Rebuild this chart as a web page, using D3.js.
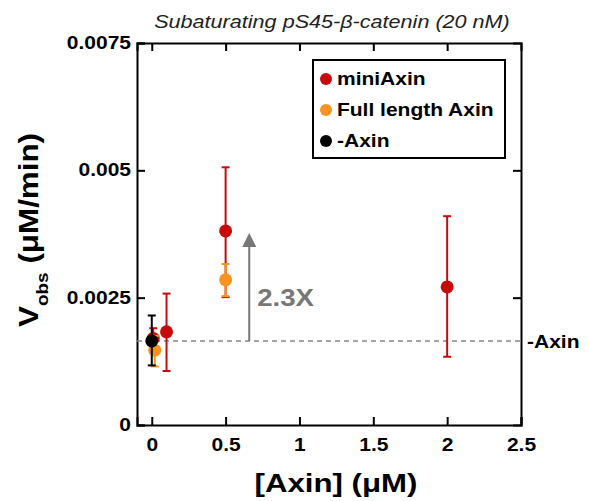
<!DOCTYPE html>
<html>
<head>
<meta charset="utf-8">
<script src="https://cdn.jsdelivr.net/npm/d3@7"></script>
<style>
  body { margin: 0; background: #fff; }
  text { font-family: "Liberation Sans", Arial, Helvetica, sans-serif; }
</style>
</head>
<body>
<div id="chart"></div>
<script>
// data
const seriesNames = ['miniAxin', 'Full length Axin', '-Axin'];
const seriesColors = ['#c80a0a', '#f7931e', '#000000'];

const miniAxin = [
  { x: 0.01, y: 0.00170, lo: 0.00150, hi: 0.00190 },
  { x: 0.1, y: 0.00183, lo: 0.00106, hi: 0.00258 },
  { x: 0.5, y: 0.00381, lo: 0.00251, hi: 0.00506 },
  { x: 2, y: 0.00271, lo: 0.00134, hi: 0.00410 }
];
const fullAxin = [
  { x: 0.02, y: 0.00147, lo: 0.00115, hi: 0.00175 },
  { x: 0.5, y: 0.00285, lo: 0.00253, hi: 0.00316 }
];
const noAxin = [
  { x: 0, y: 0.00165, lo: 0.00117, hi: 0.00215 }
];
const baseline = 0.00165;
const foldLabel = '2.3X';
const arrowX = 0.66, arrowTop = 0.00377;

const xTicks = [0, 0.5, 1, 1.5, 2, 2.5];
const yTicks = [0, 0.0025, 0.005, 0.0075];

const W = 589, H = 501;
const margin = { top: 43, right: 68, bottom: 76, left: 137 };
const width = W - margin.left - margin.right,
  height = H - margin.top - margin.bottom;

// the original figure's lettering is wider than Arial, stretch it
const SX = 1.2;
function stretch(sel) {
  sel.each(function() {
    const t = d3.select(this);
    const tx = +t.attr('x') || 0;
    const prev = t.attr('transform') || '';
    t.attr('transform', prev + ' translate(' + tx * (1 - SX) + ',0) scale(' + SX + ',1)');
  });
}

const svg = d3.select('#chart').append('svg')
  .attr('width', W).attr('height', H);

const g = svg.append('g')
  .attr('transform', 'translate(' + margin.left + ',' + margin.top + ')');

const x = d3.scaleLinear().domain([-0.1, 2.5]).range([0, width]);
const y = d3.scaleLinear().domain([0, 0.0075]).range([height, 0]);

const fmtY = d => d === 0 ? '0' : String(d);

// bottom axis, ticks pointing in
g.append('g')
  .attr('transform', 'translate(0,' + height + ')')
  .call(d3.axisBottom(x).tickValues(xTicks).tickSize(-8).tickPadding(14).tickFormat(d => String(d)))
  .call(a => a.select('.domain').attr('stroke-width', 2))
  .call(a => a.selectAll('.tick line').attr('stroke-width', 2))
  .call(a => a.selectAll('text').attr('font-size', 17.5).attr('font-weight', 'bold')
    .attr('font-family', '"Liberation Sans", Arial, sans-serif').attr('fill', '#000').call(stretch));

// top frame
g.append('g')
  .call(d3.axisTop(x).tickValues(xTicks.slice(0, 5)).tickSize(-8).tickFormat(''))
  .call(a => a.select('.domain').attr('stroke-width', 2))
  .call(a => a.selectAll('.tick line').attr('stroke-width', 2));

// left axis
g.append('g')
  .call(d3.axisLeft(y).tickValues(yTicks).tickSize(-8).tickPadding(6).tickFormat(fmtY))
  .call(a => a.select('.domain').attr('stroke-width', 2))
  .call(a => a.selectAll('.tick line').attr('stroke-width', 2))
  .call(a => a.selectAll('text').attr('x', -6).attr('font-size', 17.5).attr('font-weight', 'bold')
    .attr('font-family', '"Liberation Sans", Arial, sans-serif').attr('fill', '#000').call(stretch));

// right frame
g.append('g')
  .attr('transform', 'translate(' + width + ',0)')
  .call(d3.axisRight(y).tickValues(yTicks.slice(1, 3)).tickSize(-8).tickFormat(''))
  .call(a => a.select('.domain').attr('stroke-width', 2))
  .call(a => a.selectAll('.tick line').attr('stroke-width', 2));

// baseline (-Axin)
g.append('line')
  .attr('x1', 0).attr('x2', width)
  .attr('y1', y(baseline)).attr('y2', y(baseline))
  .attr('stroke', '#888').attr('stroke-width', 1.5)
  .attr('stroke-dasharray', '5,4');

g.append('text')
  .attr('x', width + 6).attr('y', y(baseline) + 7)
  .attr('font-size', 17.5).attr('font-weight', 'bold')
  .text('-Axin').call(stretch);

// fold change arrow
g.append('line')
  .attr('x1', x(arrowX)).attr('x2', x(arrowX))
  .attr('y1', y(baseline)).attr('y2', y(arrowTop) + 10)
  .attr('stroke', '#777').attr('stroke-width', 2);
g.append('path')
  .attr('d', d3.line()([[x(arrowX) - 7, y(arrowTop) + 14], [x(arrowX), y(arrowTop)], [x(arrowX) + 7, y(arrowTop) + 14]]) + 'Z')
  .attr('fill', '#777');
g.append('text')
  .attr('x', x(arrowX) + 8).attr('y', y(baseline) - 35)
  .attr('font-size', 23).attr('font-weight', 'bold').attr('fill', '#777')
  .text(foldLabel).call(stretch);

// error bars + points
function drawSeries(data, color) {
  const s = g.append('g');
  s.selectAll('.eb').data(data).enter().append('line')
    .attr('x1', d => x(d.x)).attr('x2', d => x(d.x))
    .attr('y1', d => y(d.lo)).attr('y2', d => y(d.hi))
    .attr('stroke', color).attr('stroke-width', 2);
  ['lo', 'hi'].forEach(k => {
    s.selectAll('.cap' + k).data(data).enter().append('line')
      .attr('x1', d => x(d.x) - 4).attr('x2', d => x(d.x) + 4)
      .attr('y1', d => y(d[k])).attr('y2', d => y(d[k]))
      .attr('stroke', color).attr('stroke-width', 2);
  });
  s.selectAll('circle').data(data).enter().append('circle')
    .attr('cx', d => x(d.x)).attr('cy', d => y(d.y))
    .attr('r', 6.5).attr('fill', color);
}
drawSeries(miniAxin, seriesColors[0]);
drawSeries(fullAxin, seriesColors[1]);
drawSeries(noAxin, seriesColors[2]);

// legend
const lg = svg.append('g').attr('transform', 'translate(313,60)');
lg.append('rect').attr('width', 192).attr('height', 98)
  .attr('fill', '#fff').attr('stroke', '#000').attr('stroke-width', 2);
seriesNames.forEach((n, i) => {
  const yy = 19 + i * 31;
  lg.append('circle').attr('cx', 13).attr('cy', yy).attr('r', 6).attr('fill', seriesColors[i]);
  lg.append('text').attr('x', 24).attr('y', yy + 6.5)
    .attr('font-size', 17.5).attr('font-weight', 'bold').text(n).call(stretch);
});

// title
svg.append('text')
  .attr('x', 332).attr('y', 28).attr('text-anchor', 'middle')
  .attr('font-size', 18).attr('font-style', 'italic').attr('fill', '#222')
  .text('Subaturating pS45-\u03b2-catenin (20 nM)').call(stretch);

// axis titles
svg.append('text')
  .attr('x', 336).attr('y', 492).attr('text-anchor', 'middle')
  .attr('font-size', 26).attr('font-weight', 'bold')
  .text('[Axin] (\u03bcM)').call(stretch);

const yl = svg.append('text')
  .attr('transform', 'translate(38,230) rotate(-90) scale(1.12,1)')
  .attr('text-anchor', 'middle')
  .attr('font-size', 28).attr('font-weight', 'bold');
yl.append('tspan').text('V');
yl.append('tspan').attr('font-size', 17).attr('dy', 10).text('obs');
yl.append('tspan').attr('dy', -10).text(' (\u03bcM/min)');
</script>
</body>
</html>
